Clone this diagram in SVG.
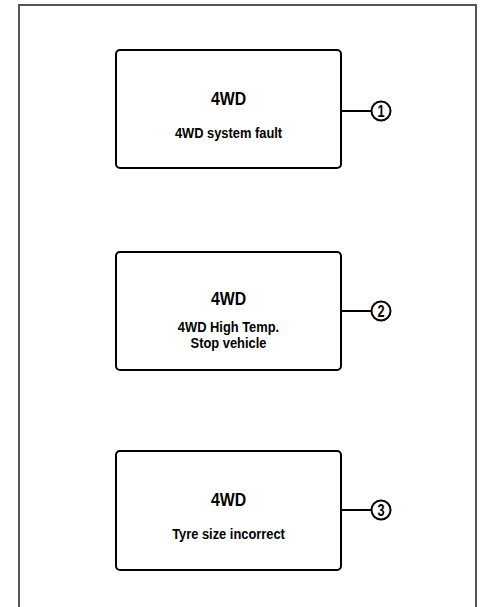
<svg xmlns="http://www.w3.org/2000/svg" width="481" height="607" viewBox="0 0 481 607">
<style>
.box{fill:#fff;stroke:#000;stroke-width:2}
.t{font-family:"Liberation Sans",Arial,sans-serif;font-weight:bold;text-anchor:middle;fill:#000}
.title{font-size:18px}
.sub{font-size:14px}
.num{font-size:16px}
.lead{stroke:#000;stroke-width:2;fill:none}
.circ{fill:#fff;stroke:#000;stroke-width:2}
</style>
<rect x="0" y="0" width="481" height="607" fill="#fff"/>
<path d="M19,612 V5 H476 V612" fill="none" stroke="#555" stroke-width="2"/>
<g id="connectors">
<line class="lead" x1="341" y1="111" x2="371" y2="111"/>
<line class="lead" x1="341" y1="311" x2="371" y2="311"/>
<line class="lead" x1="341" y1="510" x2="371" y2="510"/>
</g>
<g id="node1">
<rect class="box" x="116" y="50" width="225" height="118" rx="4"/>
<text class="t title" transform="translate(228.5,105) scale(0.88,1)">4WD</text>
<text class="t sub" transform="translate(228.5,138) scale(0.92,1)">4WD system fault</text>
</g>
<g id="node2">
<rect class="box" x="116" y="252" width="225" height="118" rx="4"/>
<text class="t title" transform="translate(228.5,305) scale(0.88,1)">4WD</text>
<text class="t sub" transform="translate(228.5,332) scale(0.92,1)">4WD High Temp.</text>
<text class="t sub" transform="translate(228.5,348) scale(0.92,1)">Stop vehicle</text>
</g>
<g id="node3">
<rect class="box" x="116" y="451" width="225" height="119" rx="4"/>
<text class="t title" transform="translate(228.5,506) scale(0.88,1)">4WD</text>
<text class="t sub" transform="translate(228.5,539) scale(0.92,1)">Tyre size incorrect</text>
</g>
<g id="label1">
<circle class="circ" cx="381" cy="111" r="9.5"/>
<text class="t num" transform="translate(381,117) scale(0.8,1)">1</text>
</g>
<g id="label2">
<circle class="circ" cx="381" cy="311" r="9.5"/>
<text class="t num" transform="translate(381,317) scale(0.8,1)">2</text>
</g>
<g id="label3">
<circle class="circ" cx="381" cy="510" r="9.5"/>
<text class="t num" transform="translate(381,516) scale(0.8,1)">3</text>
</g>
</svg>
